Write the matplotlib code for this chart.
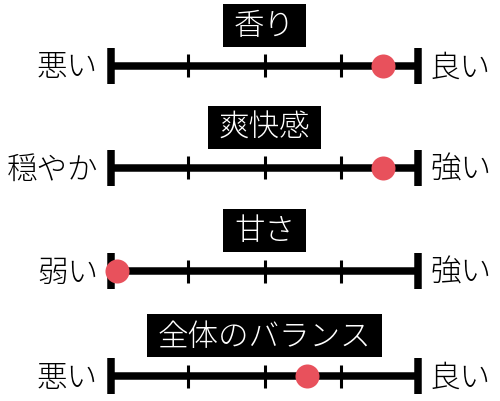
import matplotlib.pyplot as plt
from matplotlib.patches import Rectangle

plt.rcParams['font.family'] = ['Noto Sans CJK JP', 'DejaVu Sans']

# data
titles = ['香り', '爽快感', '甘さ', '全体のバランス']
left_labels = ['悪い', '穏やか', '弱い', '悪い']
right_labels = ['良い', '強い', '強い', '良い']
scores = [4.55, 4.55, 1.08, 3.55]
scale = [1, 2, 3, 4, 5]

fig = plt.figure(figsize=(5, 4.01), dpi=100)
ax = fig.add_axes([0, 0, 1, 1])
step = 76.75  # pixels per scale step
ax.set_xlim(1 - 111 / step, 1 + (500 - 111) / step)
ax.set_ylim(401, 0)  # y in pixels from the top
ax.axis('off')

row_y = [65.5, 167.5, 271, 376]
red = '#E8515C'
fs = 22

title_texts = []
for i, y in enumerate(row_y):
    # main bar + end caps + inner ticks
    ax.hlines(y, scale[0], scale[-1], color='black', lw=5.4)
    ax.vlines([scale[0], scale[-1]], y - 18, y + 18, color='black', lw=5.4)
    ax.vlines(scale[1:-1], y - 11.5, y + 11.5, color='black', lw=2.2)
    ax.plot(scores[i], y, 'o', ms=17.3, color=red, mec='none', zorder=5)

    ax.text(scale[0] - 13 / step, y + 2, left_labels[i], ha='right', va='center',
            fontsize=fs, fontweight='light')
    ax.text(scale[-1] + 12 / step, y + 2, right_labels[i], ha='left', va='center',
            fontsize=fs, fontweight='light')

    t = ax.text(3.0, y - 39.5, titles[i], ha='center', va='center', fontsize=fs,
                fontweight='light', color='white', zorder=4)
    title_texts.append(t)

# black boxes behind the titles, sized from the rendered text
fig.canvas.draw()
inv = ax.transData.inverted()
for t, y in zip(title_texts, row_y):
    bb = t.get_window_extent()
    x0 = inv.transform((bb.x0 - 11, 0))[0]
    x1 = inv.transform((bb.x1 + 11, 0))[0]
    ax.add_patch(Rectangle((x0, y - 40.5 - 21.5), x1 - x0, 43, fc='black', ec='none', zorder=3))

fig.savefig('out.png', dpi=100)
